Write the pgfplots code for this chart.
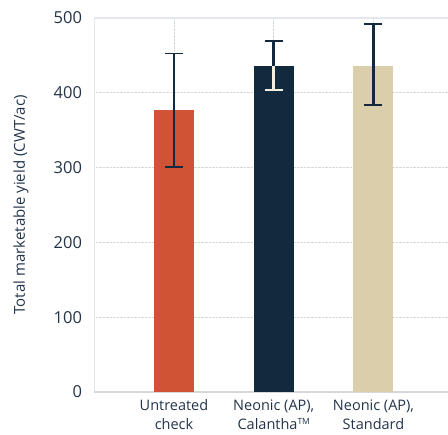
\documentclass[border=0pt]{standalone}
\usepackage{pgfplots}
\pgfplotsset{compat=1.18}
\usepackage{fontspec}
\setmainfont{Open Sans}
\definecolor{cOrange}{HTML}{D05335}
\definecolor{cNavy}{HTML}{13293D}
\definecolor{cBeige}{HTML}{DBCFAB}
\definecolor{cText}{HTML}{23344A}
\definecolor{cGrid}{HTML}{D4D8DD}
\definecolor{cFrame}{HTML}{E4E7EB}
\definecolor{cLight}{HTML}{F2EEE0}
\begin{document}
\begin{tikzpicture}
\useasboundingbox (-94.5bp,-43bp) rectangle (353.5bp,374.5bp+17.5bp);
\begin{axis}[
  at={(0,0)}, anchor=south west,
  scale only axis,
  width=353.5bp, height=374.5bp,
  xmin=-0.797, xmax=2.747,
  ymin=0, ymax=500,
  xtick={0,1,2},
  xticklabels={Untreated\\check, {Neonic (AP),\\Calantha\raisebox{0.55ex}{\fontsize{8.5bp}{9bp}\selectfont TM}}, {Neonic (AP),\\Standard}},
  xticklabel style={align=center, font=\fontsize{14.5bp}{19bp}\selectfont, text=cText, yshift=-4bp},
  ytick={0,100,200,300,400,500},
  yticklabel style={font=\fontsize{16.5bp}{18bp}\selectfont, text=cText, xshift=-9bp},
  /pgf/number format/assume math mode=true,
  major tick length=0pt,
  axis line style={draw=none},
  xmajorgrids, ymajorgrids,
  grid style={densely dotted, cGrid, line width=0.6bp},
  ylabel={Total marketable yield (CWT/ac)},
  every axis y label/.style={at={([xshift=-73.5bp]rel axis cs:0,0.5)}, rotate=90, anchor=center,
     font=\fontsize{15bp}{17bp}\selectfont, text=cText},
  clip=false,
]
\draw[cFrame, line width=1.2bp] (rel axis cs:0,0) -- (rel axis cs:0,1);
\draw[cFrame, line width=2bp] (rel axis cs:0,1) -- (rel axis cs:1,1);
\draw[cGrid, line width=1.2bp] (rel axis cs:0,0) -- (rel axis cs:1,0);
\addplot[ybar, bar width=40bp, fill=cOrange, draw=none] coordinates {(0,376)};
\addplot[ybar, bar width=40bp, fill=cNavy, draw=none] coordinates {(1,435.5)};
\addplot[ybar, bar width=40bp, fill=cBeige, draw=none] coordinates {(2,435.5)};
% upper error bars
\addplot[draw=none, mark=none, error bars/.cd, y dir=plus, y explicit,
  error bar style={line width=2.6bp, cNavy},
  error mark options={rotate=90, mark size=9bp, line width=1.8bp, cNavy}]
  table[x=x, y=y, y error plus=e] {
x y e
0 376 76
1 435.5 33.5
2 435.5 55.5
};
% lower error bars
\addplot[draw=none, mark=none, error bars/.cd, y dir=minus, y explicit,
  error bar style={line width=2.6bp, cNavy},
  error mark options={rotate=90, mark size=9bp, line width=1.8bp, cNavy}]
  table[x=x, y=y, y error minus=e] {
x y e
0 376 76
2 435.5 52
};
\addplot[draw=none, mark=none, error bars/.cd, y dir=minus, y explicit,
  error bar style={line width=2.6bp, cLight},
  error mark options={rotate=90, mark size=9bp, line width=1.8bp, cLight}]
  table[x=x, y=y, y error minus=e] {
x y e
1 435.5 32
};
\end{axis}
\end{tikzpicture}
\end{document}
